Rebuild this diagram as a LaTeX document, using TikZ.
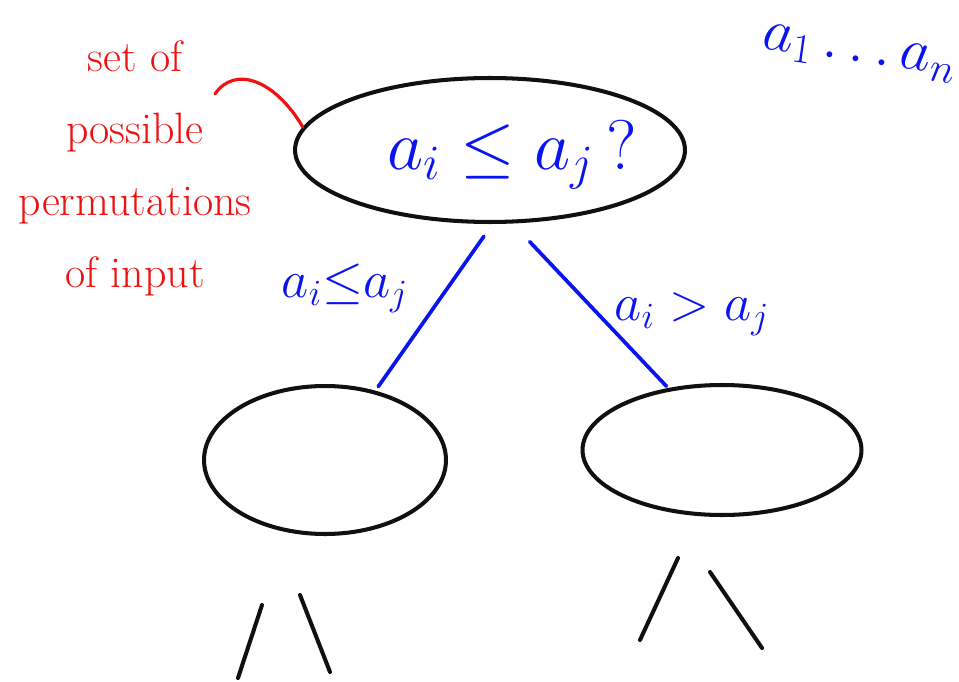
\RequirePackage{fix-cm}
\documentclass[tikz,border=0pt]{standalone}
\usetikzlibrary{positioning, shapes.geometric, calc}
\usepackage{xcolor}
\definecolor{inkblue}{HTML}{0A14F0}
\definecolor{inkred}{HTML}{F01010}
\definecolor{inkblack}{HTML}{101010}
\tikzset{
  treenode/.style={draw=inkblack, ellipse, line width=2.3pt, inner sep=0pt},
  branch/.style={draw=inkblue, line width=2.1pt, line cap=round},
  stub/.style={draw=inkblack, line width=2.3pt, line cap=round},
  bluetext/.style={text=inkblue, inner sep=0pt},
}

\begin{document}
\begin{tikzpicture}[x=0.02cm, y=-0.02cm]
        \clip (0,0) rectangle (959,682);
        \fill[white] (0,0) rectangle (959,682);
        % comparison at the root
        \node[treenode, minimum width=7.8cm, minimum height=2.88cm] (root) at (490,150) {};
        \node[bluetext, font=\fontsize{40}{48}\selectfont] (rootq) at (512,155) {$a_i \leq a_j\,?$};
        % children
        \node[treenode, minimum width=4.84cm, minimum height=2.96cm] (leftkid) at (325,460) {};
        \node[treenode, minimum width=5.58cm, minimum height=2.6cm] (rightkid) at (722,450) {};
        \draw[branch, shorten <=0.3cm, shorten >=0.1cm] (root.-88) -- (leftkid.54);
        \draw[branch, shorten <=0.5cm, shorten >=0.05cm] (root.-73) -- (rightkid.131);
        \node[bluetext, font=\fontsize{30}{36}\selectfont] (lefttxt) at (345,288) {$a_i{\leq}a_j$};
        \node[bluetext, font=\fontsize{30}{36}\selectfont] (righttxt) at (692,314) {$a_i > a_j$};
        % edges going further down
        \coordinate (la) at (262,605); \coordinate (lb) at (238,678);
        \coordinate (lc) at (300,595); \coordinate (ld) at (330,672);
        \coordinate (ra) at (678,558); \coordinate (rb) at (640,640);
        \coordinate (rc) at (710,572); \coordinate (rd) at (762,648);
        \draw[stub] (la) -- (lb);
        \draw[stub] (lc) -- (ld);
        \draw[stub] (ra) -- (rb);
        \draw[stub] (rc) -- (rd);
        % note in red
        \node[text=inkred, align=center, font=\fontsize{25}{41}\selectfont] (sets) at (135,168)
              {set of\\possible\\permutations\\of input};
        \coordinate (hook) at (215,94);
        \draw[inkred, line width=1.8pt, line cap=round] (hook) .. controls (235,65) and (275,80) .. (root.173);
        % input sequence
        \node[bluetext, font=\fontsize{34}{40}\selectfont, anchor=west, rotate=-8] (inputs) at (762,40) {$a_1 \ldots a_n$};
      \end{tikzpicture}
\end{document}
